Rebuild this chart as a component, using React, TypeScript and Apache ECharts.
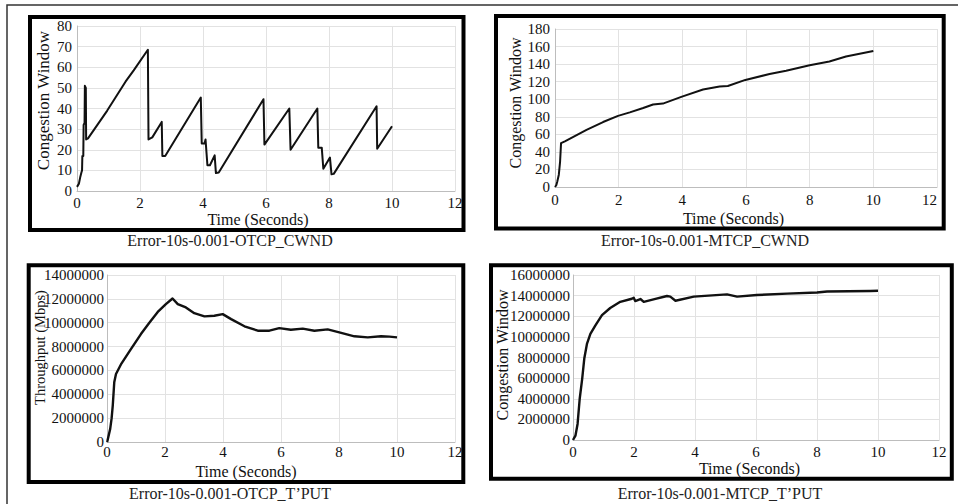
import { useEffect, useRef } from "react";
import * as echarts from "echarts";

// ---------- data ----------
const otcpCwndTime = [0, 0.06, 0.1, 0.14, 0.16, 0.17, 0.2, 0.21, 0.24, 0.25, 0.28, 0.29, 0.35, 0.96, 1.54, 1.8, 2.25, 2.27, 2.39, 2.69, 2.71, 2.8, 3.93, 3.96, 4.05, 4.08, 4.14, 4.22, 4.37, 4.41, 4.5, 5.92, 5.95, 6.74, 6.78, 7.63, 7.66, 7.77, 7.82, 8.03, 8.08, 8.15, 9.51, 9.53, 10.0];
const otcpCwnd = [2, 3.5, 6.5, 9, 10, 17, 17, 32, 33, 51, 50, 25, 25.5, 39, 53, 58.5, 68.5, 25, 26, 33.5, 17, 17, 45.3, 23, 23, 25, 12.5, 12.5, 17.3, 8.7, 9, 44.5, 22.5, 40, 20, 40, 21, 21, 10.8, 16.2, 8.1, 8.3, 41.1, 20.5, 31.4];

const mtcpCwndTime = [0, 0.04, 0.07, 0.12, 0.16, 0.19, 0.31, 0.99, 1.51, 1.98, 2.35, 2.77, 3.08, 3.39, 3.99, 4.65, 5.17, 5.43, 5.98, 6.74, 7.26, 8.0, 8.62, 9.14, 10.0];
const mtcpCwnd = [0, 2, 6, 14, 29, 50, 52, 65, 74, 81, 85, 90, 94, 95, 103, 111, 114.4, 115, 122, 128.7, 132.5, 138.8, 143, 148.6, 155];

const otcpTputTime = [0, 0.02, 0.11, 0.16, 0.2, 0.25, 0.31, 0.48, 0.83, 1.17, 1.46, 1.75, 2.03, 2.26, 2.44, 2.72, 3.01, 3.36, 3.7, 3.99, 4.28, 4.74, 5.2, 5.6, 5.94, 6.34, 6.75, 7.15, 7.61, 8.01, 8.53, 8.99, 9.45, 9.74, 10.0];
const otcpTput = [0, 140000, 1100000, 2000000, 3100000, 5000000, 5700000, 6500000, 7800000, 9050000, 10000000, 10900000, 11560000, 12030000, 11560000, 11280000, 10800000, 10530000, 10580000, 10720000, 10300000, 9700000, 9330000, 9330000, 9550000, 9410000, 9500000, 9330000, 9440000, 9190000, 8860000, 8770000, 8860000, 8830000, 8770000];

const mtcpTputTime = [0, 0.08, 0.15, 0.22, 0.3, 0.37, 0.46, 0.57, 0.73, 0.95, 1.22, 1.55, 1.93, 1.99, 2.04, 2.21, 2.32, 2.64, 3.08, 3.19, 3.36, 3.96, 5.05, 5.38, 6.03, 7.02, 8.0, 8.33, 9.75, 10.0];
const mtcpTput = [0, 420000, 1560000, 4000000, 5900000, 7900000, 9350000, 10300000, 11100000, 12100000, 12800000, 13400000, 13700000, 13800000, 13470000, 13670000, 13400000, 13640000, 13960000, 13900000, 13500000, 13900000, 14120000, 13900000, 14060000, 14190000, 14300000, 14400000, 14450000, 14470000];

const captions = [
  "Error-10s-0.001-OTCP_CWND",
  "Error-10s-0.001-MTCP_CWND",
  "Error-10s-0.001-OTCP_T\u2019PUT",
  "Error-10s-0.001-MTCP_T\u2019PUT",
];
const xTitle = "Time (Seconds)";
const yTitles = ["Congestion Window", "Congestion Window", "Throughput (Mbps)", "Congestion Window"];
const xMax = 12;
const xStep = 2;
const yMaxes = [80, 180, 14000000, 16000000];
const ySteps = [10, 20, 2000000, 2000000];

const zip = (t: number[], v: number[]) => t.map((x, i) => [x, v[i]]);
const seriesData = [
  zip(otcpCwndTime, otcpCwnd),
  zip(mtcpCwndTime, mtcpCwnd),
  zip(otcpTputTime, otcpTput),
  zip(mtcpTputTime, mtcpTput),
];

// ---------- layout ----------
const FONT = "Liberation Serif";
const grids = [
  { left: 77, top: 26, width: 378, height: 165 },
  { left: 555, top: 29, width: 382, height: 158 },
  { left: 107, top: 275, width: 348, height: 167 },
  { left: 573, top: 275, width: 366, height: 165 },
];
const xNameGap = [20.5, 23, 21, 20.5];
const xNamePad = [16, 25, 70, 13];
const xLabelMargin = [4.5, 5, 2, 4.5];
const xMaxAlign = ["center", "right", "center", "center"];
const yNameGap = [25, 32, 60, 63];
const yNamePad = [16, 10, 22, 5];
const yNameSize = [17, 16, 14.5, 16];
const yLabelMargin = [5, 5, 3, 3];
const lineWidths = [2, 2, 2.4, 2.4];
const boxes = [
  { x: 30, y: 17, w: 433.5, h: 213 },
  { x: 496, y: 16, w: 447.7, h: 212.5 },
  { x: 28.7, y: 265.3, w: 434.6, h: 216.7 },
  { x: 491, y: 265.3, w: 460.8, h: 213.4 },
];
const captionPos = [
  [230, 240],
  [705, 240],
  [230, 493],
  [720, 493],
];

export default function App() {
  const ref = useRef<HTMLDivElement>(null);
  useEffect(() => {
    if (!ref.current) return;
    const chart = echarts.init(ref.current, undefined, { renderer: "svg" });
    const fmt = (v: number) => String(v);
    chart.setOption({
      animation: false,
      backgroundColor: "#ffffff",
      textStyle: { fontFamily: FONT },
      grid: grids.map((g) => ({ ...g, containLabel: false })),
      xAxis: grids.map((_, i) => ({
        type: "value",
        gridIndex: i,
        min: 0,
        max: xMax,
        interval: xStep,
        name: xTitle,
        nameLocation: "middle",
        nameGap: xNameGap[i],
        nameMoveOverlap: false,
        nameTextStyle: { fontFamily: FONT, fontSize: 16, color: "#111", padding: [0, xNamePad[i], 0, 0] },
        axisLine: { show: true, onZero: false, lineStyle: { color: "#bdbdbd", width: 1 } },
        axisTick: { show: false },
        axisLabel: {
          fontFamily: FONT,
          fontSize: 15,
          color: "#111",
          margin: xLabelMargin[i],
          showMinLabel: true,
          showMaxLabel: true,
          alignMaxLabel: xMaxAlign[i],
          formatter: fmt,
        },
        splitLine: { show: true, lineStyle: { color: "#e2e2e2", width: 1 } },
      })),
      yAxis: grids.map((_, i) => ({
        type: "value",
        gridIndex: i,
        min: 0,
        max: yMaxes[i],
        interval: ySteps[i],
        name: yTitles[i],
        nameLocation: "middle",
        nameGap: yNameGap[i],
        nameMoveOverlap: false,
        nameTextStyle: { fontFamily: FONT, fontSize: yNameSize[i], color: "#111", padding: [0, 0, 0, yNamePad[i]] },
        axisLine: { show: true, lineStyle: { color: "#bdbdbd", width: 1 } },
        axisTick: { show: false },
        axisLabel: { fontFamily: FONT, fontSize: 15, color: "#111", margin: yLabelMargin[i], showMinLabel: true, showMaxLabel: true, formatter: fmt },
        splitLine: { show: true, lineStyle: { color: "#e2e2e2", width: 1 } },
      })),
      series: seriesData.map((d, i) => ({
        type: "line",
        xAxisIndex: i,
        yAxisIndex: i,
        data: d,
        showSymbol: false,
        symbol: "none",
        smooth: false,
        lineStyle: { color: "#111", width: lineWidths[i], join: "round" },
        z: 3,
      })),
      graphic: [
        {
          type: "rect",
          shape: { x: 7, y: 5, width: 1000, height: 600 },
          style: { fill: "none", stroke: "#333", lineWidth: 1.5 },
          silent: true,
        },
        ...boxes.map((b) => ({
          type: "rect",
          shape: { x: b.x, y: b.y, width: b.w, height: b.h },
          style: { fill: "none", stroke: "#000", lineWidth: 4 },
          silent: true,
        })),
        ...captions.map((c, i) => ({
          type: "text",
          x: captionPos[i][0],
          y: captionPos[i][1],
          style: {
            text: c,
            fontFamily: FONT,
            fontSize: 16,
            fill: "#222",
            align: "center",
            verticalAlign: "middle",
          },
          silent: true,
        })),
      ],
    });
    return () => chart.dispose();
  }, []);
  return (
    <div
      ref={ref}
      style={{ position: "absolute", left: 0, top: 0, width: 958, height: 504, background: "#fff" }}
    />
  );
}
